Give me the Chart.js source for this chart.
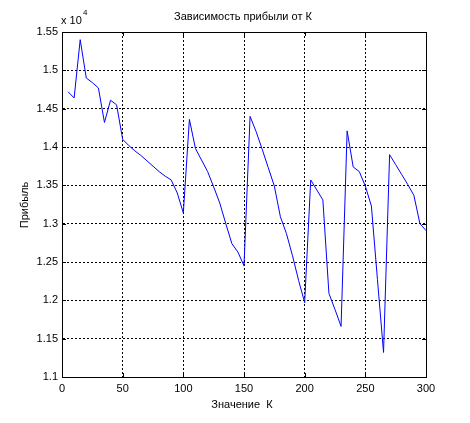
<!DOCTYPE html>
<html>
<head>
<meta charset="utf-8">
<script src="https://cdn.jsdelivr.net/npm/chart.js@4"></script>
<style>
  html, body { margin: 0; padding: 0; background: #fff; }
  #wrap { width: 470px; height: 423px; }
</style>
</head>
<body>
<div id="wrap"><canvas id="profitChart" width="470" height="423"></canvas></div>
<script>
'use strict';

// K values
var kValues = [5, 10, 15, 20, 25, 30, 35, 40, 45, 50,
	55, 60, 65, 70, 75, 80, 85, 90, 95, 100,
	105, 110, 115, 120, 125, 130, 135, 140, 145, 150,
	155, 160, 165, 170, 175, 180, 185, 190, 195, 200,
	205, 210, 215, 220, 225, 230, 235, 240, 245, 250,
	255, 260, 265, 270, 275, 280, 285, 290, 295, 300];

// profit for each K
var profit = [14720, 14640, 15400, 14900, 14840, 14770, 14320, 14610, 14550, 14100,
	14020, 13950, 13890, 13820, 13750, 13680, 13620, 13570, 13400, 13140,
	14360, 13980, 13830, 13680, 13480, 13270, 13000, 12740, 12630, 12450,
	14400, 14200, 13970, 13730, 13490, 13090, 12870, 12580, 12260, 11970,
	13570, 13440, 13310, 12090, 11880, 11660, 14210, 13740, 13680, 13490,
	13230, 12270, 11320, 13900, 13770, 13640, 13510, 13370, 13000, 12910];

var xTicks = [0, 50, 100, 150, 200, 250, 300];
var yTicks = [11000, 11500, 12000, 12500, 13000, 13500, 14000, 14500, 15000, 15500];

var chartTitle = 'Зависимость прибыли от К';
var xTitle = 'Значение  К';
var yTitle = 'Прибыль';

var FONT = '"Liberation Sans", Arial, sans-serif';

var points = [];
for (var i = 0; i < kValues.length; i++) {
	points.push({x: kValues[i], y: profit[i]});
}

// frame, inward ticks and the text around the axes
var matlabDecor = {
	id: 'matlabDecor',
	afterDraw: function(chart) {
		var ctx = chart.ctx;
		var a = chart.chartArea;
		var xs = chart.scales.x;
		var ys = chart.scales.y;
		ctx.save();
		ctx.strokeStyle = '#000';
		ctx.lineWidth = 1;
		ctx.setLineDash([]);
		ctx.beginPath();
		xTicks.forEach(function(t) {
			var px = Math.round(xs.getPixelForValue(t)) + 0.5;
			ctx.moveTo(px, a.bottom); ctx.lineTo(px, a.bottom - 4);
			ctx.moveTo(px, a.top); ctx.lineTo(px, a.top + 4);
		});
		yTicks.forEach(function(t) {
			var py = Math.round(ys.getPixelForValue(t)) + 0.5;
			ctx.moveTo(a.left, py); ctx.lineTo(a.left + 4, py);
			ctx.moveTo(a.right, py); ctx.lineTo(a.right - 4, py);
		});
		ctx.stroke();
		ctx.strokeRect(Math.round(a.left) + 0.5, Math.round(a.top) + 0.5,
			Math.round(a.right - a.left), Math.round(a.bottom - a.top));

		ctx.fillStyle = '#000';
		ctx.font = '11px ' + FONT;
		ctx.textAlign = 'center';
		ctx.textBaseline = 'middle';
		ctx.fillText(chartTitle, 243, 17);
		ctx.fillText(xTitle, 242, 405);

		ctx.textAlign = 'left';
		ctx.fillText('x 10', 61, 21);
		ctx.font = '8px ' + FONT;
		ctx.fillText('4', 83, 13);

		ctx.font = '11px ' + FONT;
		ctx.translate(25, 205);
		ctx.rotate(-Math.PI / 2);
		ctx.textAlign = 'center';
		ctx.fillText(yTitle, 0, 0);
		ctx.restore();
	}
};

new Chart(document.getElementById('profitChart'), {
	type: 'line',
	data: {
		datasets: [{
			data: points,
			borderColor: '#0000ff',
			borderWidth: 1,
			pointRadius: 0,
			fill: false,
			tension: 0
		}]
	},
	options: {
		responsive: false,
		animation: false,
		devicePixelRatio: 1,
		layout: {padding: {left: 0, right: 44, top: 32, bottom: 0}},
		plugins: {
			legend: {display: false},
			tooltip: {enabled: false}
		},
		scales: {
			x: {
				type: 'linear',
				min: 0,
				max: 300,
				afterFit: function(scale) { scale.height = 46; },
				afterBuildTicks: function(scale) {
					scale.ticks = xTicks.map(function(v) { return {value: v}; });
				},
				ticks: {
					color: '#000',
					font: {family: FONT, size: 11},
					padding: 5,
					maxRotation: 0
				},
				grid: {
					color: '#000',
					lineWidth: 1,
					drawTicks: false
				},
				border: {display: true, color: '#000', dash: [2, 2]}
			},
			y: {
				type: 'linear',
				min: 11000,
				max: 15500,
				afterFit: function(scale) { scale.width = 62; },
				afterBuildTicks: function(scale) {
					scale.ticks = yTicks.map(function(v) { return {value: v}; });
				},
				ticks: {
					color: '#000',
					font: {family: FONT, size: 11},
					padding: 4,
					callback: function(v) { return String(v / 10000); }
				},
				grid: {
					color: '#000',
					lineWidth: 1,
					drawTicks: false
				},
				border: {display: true, color: '#000', dash: [2, 2]}
			}
		}
	},
	plugins: [matlabDecor]
});
</script>
</body>
</html>
